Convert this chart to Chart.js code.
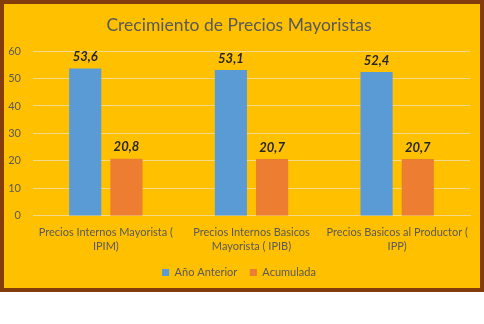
<!DOCTYPE html>
<html>
<head>
<meta charset="utf-8">
<script src="https://cdn.jsdelivr.net/npm/chart.js@4.4.1/dist/chart.umd.min.js"></script>
<style>
  html, body { margin: 0; padding: 0; background: #ffffff; }
  #frame {
    position: absolute; left: 0; top: 0;
    width: 476px; height: 284px;
    border: 4px solid #843C0C;
    background: #FFC000;
  }
  #frame canvas { display: block; }
</style>
</head>
<body>
<div id="frame"><canvas id="c" width="476" height="284"></canvas></div>
<script>
const categories = [
  ["Precios Internos Mayorista (", "IPIM)"],
  ["Precios Internos Basicos", "Mayorista ( IPIB)"],
  ["Precios Basicos al Productor (", "IPP)"]
];
const seriesNames = ["Año Anterior", "Acumulada"];
const anioAnterior = [53.6, 53.1, 52.4];
const acumulada = [20.8, 20.7, 20.7];
const yTicks = [0, 10, 20, 30, 40, 50, 60];

const FONT = "Lato, 'Open Sans', sans-serif";
const TEXT = "#595959";

const labelPlugin = {
  id: 'valueLabels',
  afterDatasetsDraw(chart) {
    const ctx = chart.ctx;
    ctx.save();
    ctx.font = "italic bold 13px " + FONT;
    ctx.fillStyle = "#262626";
    ctx.textAlign = "center";
    ctx.textBaseline = "bottom";
    chart.data.datasets.forEach((ds, i) => {
      const meta = chart.getDatasetMeta(i);
      meta.data.forEach((bar, j) => {
        const v = ds.data[j];
        ctx.fillText(v.toFixed(1).replace('.', ','), bar.x, bar.y - 5);
      });
    });
    ctx.restore();
  }
};

new Chart(document.getElementById('c'), {
  type: 'bar',
  data: {
    labels: categories,
    datasets: [
      { label: seriesNames[0], data: anioAnterior, backgroundColor: '#5B9BD5' },
      { label: seriesNames[1], data: acumulada, backgroundColor: '#ED7D31' }
    ]
  },
  options: {
    responsive: false,
    animation: false,
    devicePixelRatio: 1,
    layout: { padding: { left: 4, right: 10, top: 0, bottom: 0 } },
    datasets: { bar: { categoryPercentage: 0.566, barPercentage: 0.78 } },
    plugins: {
      title: {
        display: true,
        text: "Crecimiento de Precios Mayoristas",
        color: TEXT,
        font: { family: FONT, size: 17.5, weight: 'normal' },
        padding: { top: 11, bottom: 15 }
      },
      legend: {
        position: 'bottom',
        labels: {
          color: TEXT,
          font: { family: FONT, size: 11 },
          boxWidth: 7, boxHeight: 7,
          padding: 12.5
        }
      },
      tooltip: { enabled: false }
    },
    scales: {
      x: {
        grid: { display: false },
        border: { display: true, color: '#F5D98A', width: 1 },
        ticks: {
          color: TEXT,
          font: { family: FONT, size: 11, lineHeight: 1.3 },
          maxRotation: 0, autoSkip: false, padding: 1
        }
      },
      y: {
        min: 0, max: 60,
        afterBuildTicks(scale) { scale.ticks = yTicks.map(v => ({ value: v })); },
        afterFit(scale) { scale.width = 25; },
        grid: { color: '#F5D98A', lineWidth: 1, drawTicks: false },
        border: { display: false },
        ticks: {
          color: TEXT,
          font: { family: FONT, size: 11 },
          padding: 12,
          autoSkip: false
        }
      }
    }
  },
  plugins: [labelPlugin]
});
</script>
</body>
</html>
